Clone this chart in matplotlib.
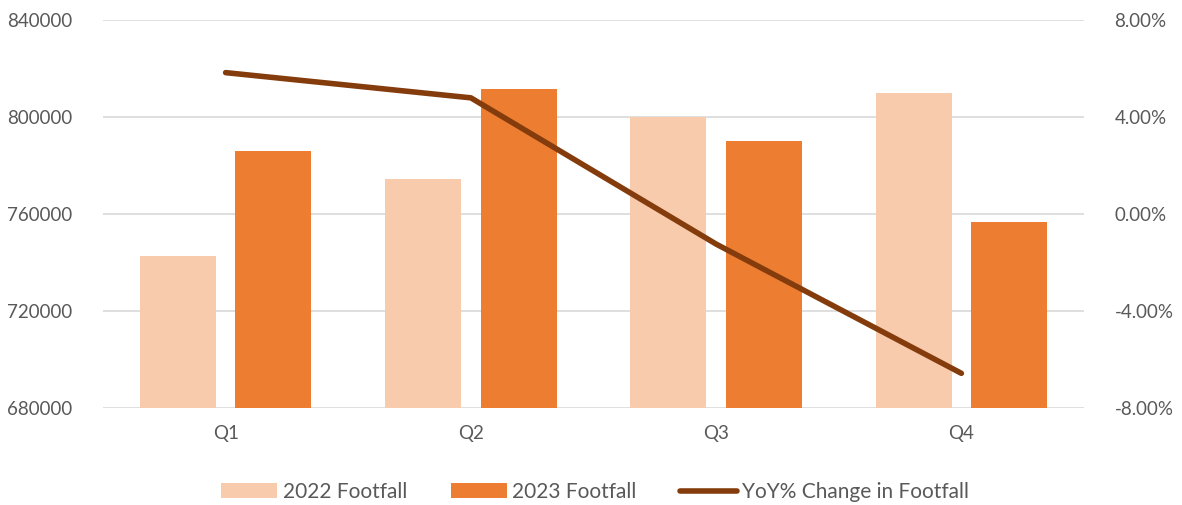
import matplotlib
matplotlib.use("Agg")
import matplotlib.pyplot as plt
import numpy as np
from matplotlib.ticker import FuncFormatter

quarters = ["Q1", "Q2", "Q3", "Q4"]
footfall_2022 = [742700, 774400, 800000, 809900]
footfall_2023 = [786000, 811600, 790100, 756700]
yoy_change = [5.83, 4.79, -1.24, -6.57]
left_ticks = [680000, 720000, 760000, 800000, 840000]
right_ticks = [-8, -4, 0, 4, 8]

plt.rcParams['font.family'] = ['Lato', 'DejaVu Sans']
text_color = "#595959"

fig = plt.figure(figsize=(11.82, 5.05), dpi=100)
ax = fig.add_axes([103/1182, 1-408/505, 981/1182, 388/505])
ax2 = ax.twinx()

x = np.arange(len(quarters))
w = 0.31
off = 0.195
b1 = ax.bar(x - off, footfall_2022, w, color="#F8CBAD", label="2022 Footfall", zorder=2)
b2 = ax.bar(x + off, footfall_2023, w, color="#ED7D31", label="2023 Footfall", zorder=2)
ln, = ax2.plot(x, yoy_change, color="#843C0C", lw=4, solid_capstyle="round", label="YoY% Change in Footfall", zorder=3)

ax.set_xlim(-0.5, 3.5)
ax.set_ylim(680000, 840000)
ax.set_yticks(left_ticks)
ax.set_xticks(x)
ax.set_xticklabels(quarters)
ax2.set_ylim(-8, 8)
ax2.set_yticks(right_ticks)
ax2.yaxis.set_major_formatter(FuncFormatter(lambda v, p: f"{v:.2f}%"))

ax.grid(axis="y", color="#D9D9D9", lw=1.2, zorder=0)
ax.set_axisbelow(True)
for a in (ax, ax2):
    for s in a.spines.values():
        s.set_visible(False)
    a.tick_params(length=0, labelsize=13.5, colors=text_color)
ax.tick_params(axis="x", pad=12)
ax.tick_params(axis="y", pad=22)
ax2.tick_params(axis="y", pad=22)

leg = fig.legend([b1, b2, ln], ["2022 Footfall", "2023 Footfall", "YoY% Change in Footfall"],
                 loc="center", bbox_to_anchor=(595/1182, 1-492/505), ncol=3, frameon=False,
                 fontsize=15, handlelength=2.7, handletextpad=0.25, columnspacing=2.1)
for t in leg.get_texts():
    t.set_color(text_color)

fig.savefig("out.png", dpi=100)
